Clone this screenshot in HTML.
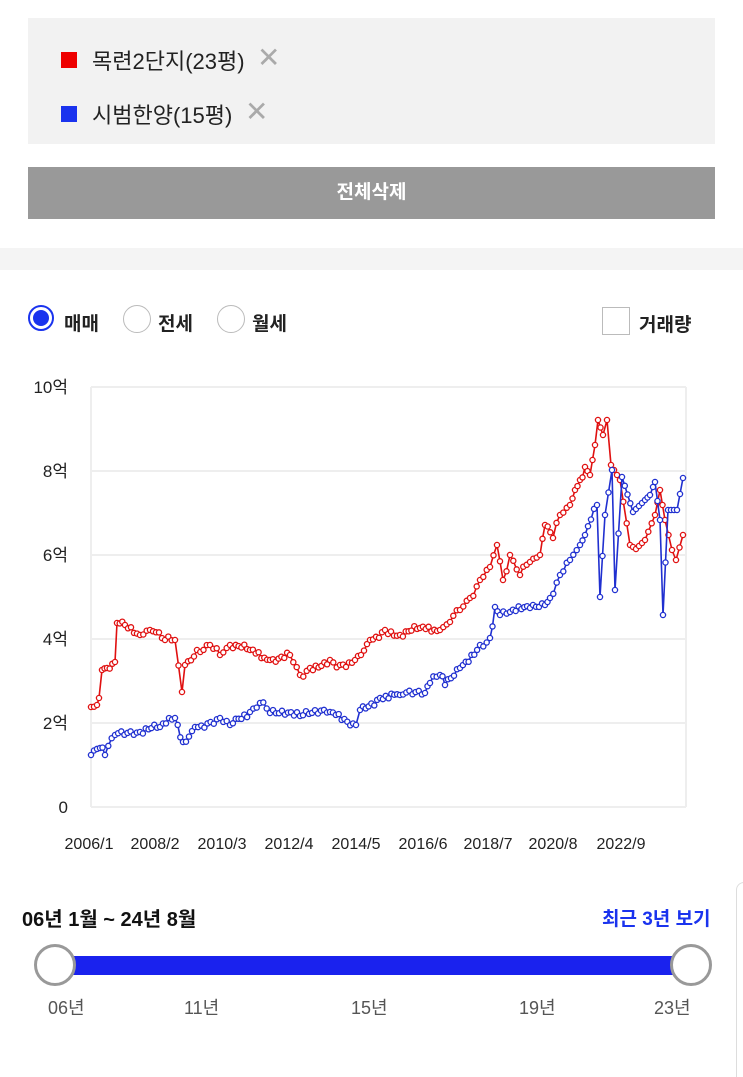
<!DOCTYPE html>
<html><head><meta charset="utf-8"><style>
body{margin:0;width:743px;height:1076px;background:#fff;font-family:"Liberation Sans","Noto Sans CJK KR",sans-serif;position:relative;overflow:hidden}
.a{position:absolute}
</style></head><body>
<div class="a" style="left:28px;top:18px;width:687px;height:126px;background:#f2f2f2"></div>
<div class="a" style="left:61px;top:52px;width:16px;height:16px;background:#ee0000"></div>
<div class="a" style="left:92px;top:44px;font-size:22px;color:#222">목련2단지(23평)</div>
<div class="a" style="left:257px;top:41px;font-size:28px;color:#aaa">✕</div>
<div class="a" style="left:61px;top:106px;width:16px;height:16px;background:#1a33ee"></div>
<div class="a" style="left:92px;top:98px;font-size:22px;color:#222">시범한양(15평)</div>
<div class="a" style="left:245px;top:95px;font-size:28px;color:#aaa">✕</div>
<div class="a" style="left:28px;top:167px;width:687px;height:52px;background:#999;color:#fff;font-weight:bold;font-size:19px;text-align:center;line-height:52px">전체삭제</div>
<div class="a" style="left:0;top:248px;width:743px;height:22px;background:#f4f4f4"></div>
<div class="a" style="left:28px;top:305px;width:26px;height:26px;border:2px solid #1a33ee;border-radius:50%;box-sizing:border-box"></div>
<div class="a" style="left:33px;top:310px;width:16px;height:16px;background:#1a33ee;border-radius:50%"></div>
<div class="a" style="left:64px;top:309px;font-size:19px;font-weight:bold;color:#222">매매</div>
<div class="a" style="left:123px;top:305px;width:28px;height:28px;border:1.5px solid #bbb;border-radius:50%;box-sizing:border-box"></div>
<div class="a" style="left:158px;top:309px;font-size:19px;font-weight:bold;color:#222">전세</div>
<div class="a" style="left:217px;top:305px;width:28px;height:28px;border:1.5px solid #bbb;border-radius:50%;box-sizing:border-box"></div>
<div class="a" style="left:252px;top:309px;font-size:19px;font-weight:bold;color:#222">월세</div>
<div class="a" style="left:602px;top:307px;width:28px;height:28px;border:1.5px solid #bbb;box-sizing:border-box"></div>
<div class="a" style="left:639px;top:310px;font-size:19px;font-weight:bold;color:#222">거래량</div>
<svg class="a" style="left:0;top:0" width="743" height="1076" id="s">
<g stroke="#eee" stroke-width="2"><line x1="91" y1="387" x2="686" y2="387"/><line x1="91" y1="471" x2="686" y2="471"/><line x1="91" y1="555" x2="686" y2="555"/><line x1="91" y1="639" x2="686" y2="639"/><line x1="91" y1="723" x2="686" y2="723"/><line x1="91" y1="807" x2="686" y2="807"/><line x1="91" y1="387" x2="91" y2="807"/><line x1="686" y1="387" x2="686" y2="807"/></g>
<g font-size="17" fill="#222" text-anchor="end"><text x="68" y="393">10억</text><text x="68" y="477">8억</text><text x="68" y="561">6억</text><text x="68" y="645">4억</text><text x="68" y="729">2억</text><text x="68" y="813">0</text></g>
<g font-size="16" fill="#222" text-anchor="middle"><text x="89" y="849">2006/1</text><text x="155" y="849">2008/2</text><text x="222" y="849">2010/3</text><text x="289" y="849">2012/4</text><text x="356" y="849">2014/5</text><text x="423" y="849">2016/6</text><text x="488" y="849">2018/7</text><text x="553" y="849">2020/8</text><text x="621" y="849">2022/9</text></g>
</svg>
<div class="a" style="left:22px;top:903px;font-size:20px;font-weight:bold;color:#111">06년 1월 ~ 24년 8월</div>
<div class="a" style="left:602px;top:904px;font-size:19px;font-weight:bold;color:#1a33ee">최근 3년 보기</div>
<div class="a" style="left:55px;top:956px;width:636px;height:19px;background:#1a22ee"></div>
<div class="a" style="left:34px;top:944px;width:42px;height:42px;border:3px solid #999;border-radius:50%;background:#fff;box-sizing:border-box"></div>
<div class="a" style="left:670px;top:944px;width:42px;height:42px;border:3px solid #999;border-radius:50%;background:#fff;box-sizing:border-box"></div>
<div class="a" style="left:48px;top:994px;font-size:18px;color:#555">06년</div>
<div class="a" style="left:184px;top:994px;font-size:18px;color:#555">11년</div>
<div class="a" style="left:351px;top:994px;font-size:18px;color:#555">15년</div>
<div class="a" style="left:519px;top:994px;font-size:18px;color:#555">19년</div>
<div class="a" style="left:654px;top:994px;font-size:18px;color:#555">23년</div>
<div class="a" style="left:736px;top:882px;width:7px;height:194px;border-left:1px solid #ddd;border-top:1px solid #ddd;border-radius:8px 0 0 0"></div>
<script>
var R=[[91,707],[97,705],[99,698],[102,670],[107,668],[115,662],[117,623],[125,625],[140,635],[150,630],[165,640],[175,640],[182,692],[185,665],[197,650],[210,645],[220,655],[230,645],[250,650],[270,660],[290,655],[300,675],[310,668],[330,660],[340,665],[355,660],[370,640],[385,630],[400,635],[420,628],[440,630],[450,622],[460,610],[470,598],[480,580],[490,567],[497,545],[503,580],[510,555],[520,575],[530,562],[540,555],[545,525],[553,538],[560,515],[570,505],[575,490],[580,480],[585,467],[590,475],[595,445],[598,420],[603,435],[607,420],[611,465],[620,480],[630,545],[636,549],[645,540],[655,515],[660,490],[665,520],[672,550],[676,560],[683,535]];
var B=[[91,755],[100,748],[105,755],[115,735],[140,732],[160,727],[175,718],[183,742],[195,727],[220,718],[230,725],[250,712],[260,703],[270,713],[300,716],[330,712],[356,725],[360,710],[380,698],[400,695],[425,693],[430,683],[440,675],[445,685],[460,668],[480,645],[490,638],[495,607],[500,615],[510,612],[530,608],[545,605],[550,598],[560,575],[570,560],[580,545],[585,535],[597,505],[600,597],[605,515],[612,470],[615,590],[622,477],[633,512],[645,500],[650,495],[653,487],[655,482],[660,520],[663,615],[668,510],[677,510],[683,478]];
function build(K,col,seed){var pts=[];for(var i=0;i<K.length-1;i++){var a=K[i],b=K[i+1];var n=Math.max(1,Math.round((b[0]-a[0])/3));for(var j=0;j<n;j++){var t=j/n;var x=a[0]+(b[0]-a[0])*t,y=a[1]+(b[1]-a[1])*t;if(j>0&&a[0]<590)y+=4*Math.sin(x*1.7+seed)*Math.cos(x*0.37+seed);pts.push([x,y]);}}pts.push(K[K.length-1]);
var s='<polyline fill="none" stroke="'+col+'" stroke-width="1.6" points="'+pts.map(function(p){return p[0].toFixed(1)+','+p[1].toFixed(1)}).join(' ')+'"/>';
pts.forEach(function(p){s+='<circle cx="'+p[0].toFixed(1)+'" cy="'+p[1].toFixed(1)+'" r="2.6" fill="#fff" stroke="'+col+'" stroke-width="1.3"/>'});return s;}
var svg=document.getElementById('s');svg.insertAdjacentHTML('beforeend',build(R,'#e01010',1)+build(B,'#2030d0',3));
</script>
</body></html>
